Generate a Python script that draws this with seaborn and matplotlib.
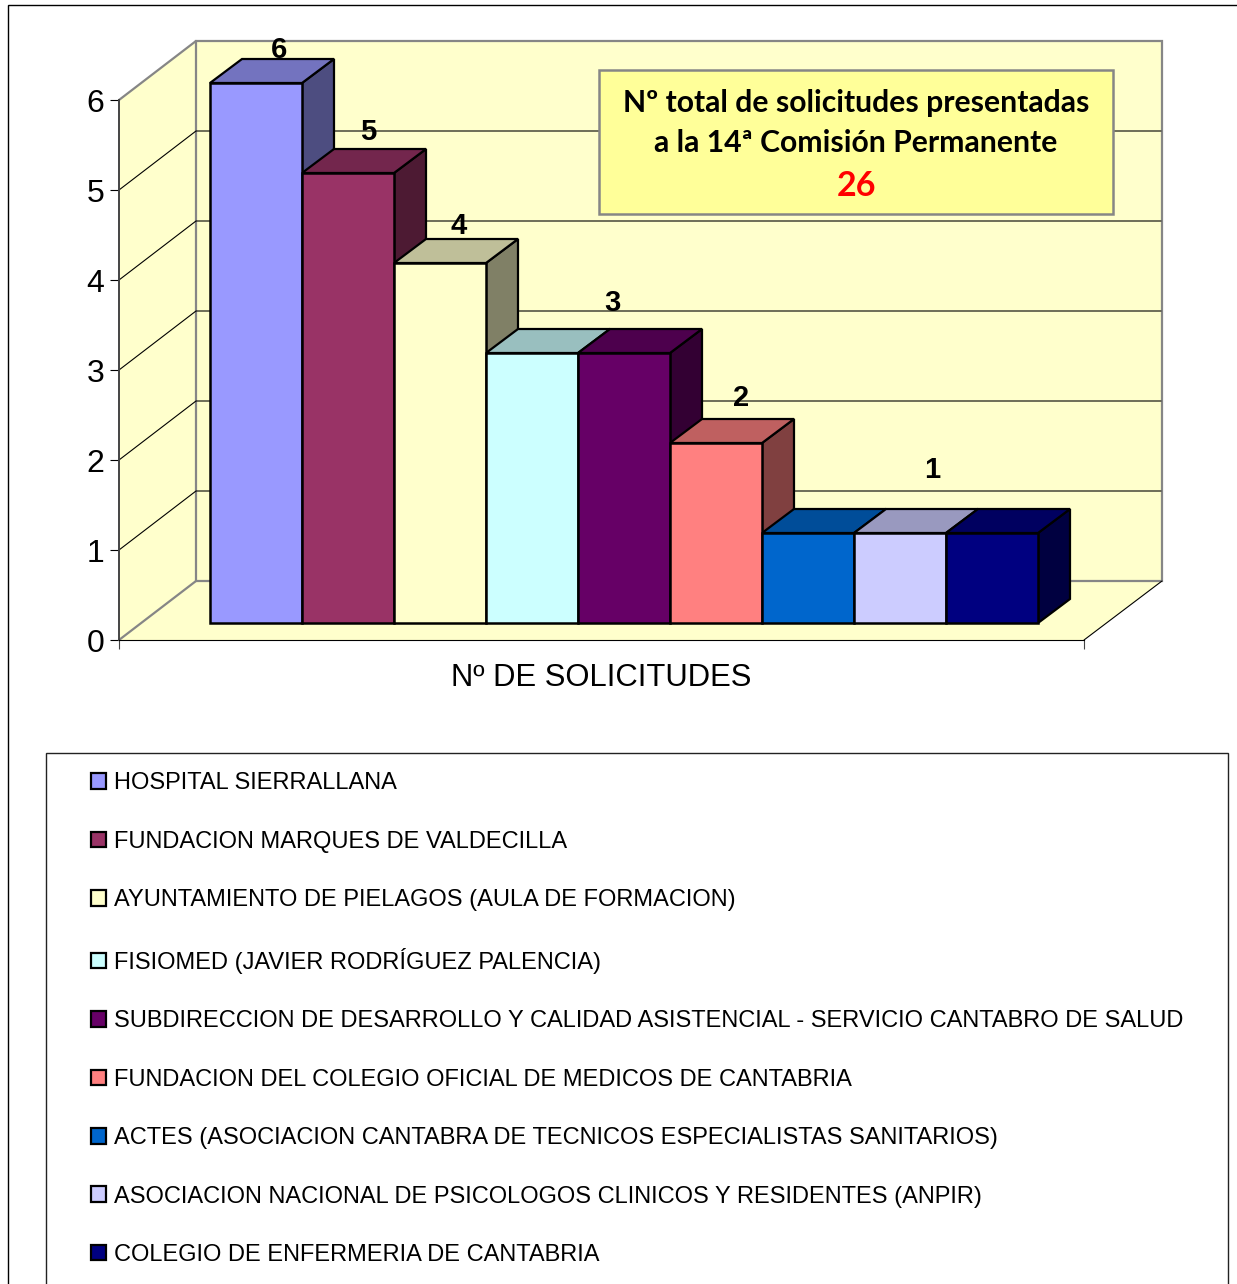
import matplotlib
matplotlib.use("Agg")
import matplotlib.pyplot as plt
import seaborn as sns
import pandas as pd
from matplotlib.patches import Polygon, Rectangle

# data
centros = [
    "HOSPITAL SIERRALLANA",
    "FUNDACION MARQUES DE VALDECILLA",
    "AYUNTAMIENTO DE PIELAGOS (AULA DE FORMACION)",
    "FISIOMED (JAVIER RODRÍGUEZ PALENCIA)",
    "SUBDIRECCION DE DESARROLLO Y CALIDAD ASISTENCIAL - SERVICIO CANTABRO DE SALUD",
    "FUNDACION DEL COLEGIO OFICIAL DE MEDICOS DE CANTABRIA",
    "ACTES (ASOCIACION CANTABRA DE TECNICOS ESPECIALISTAS SANITARIOS)",
    "ASOCIACION NACIONAL DE PSICOLOGOS CLINICOS Y RESIDENTES (ANPIR)",
    "COLEGIO DE ENFERMERIA DE CANTABRIA",
]
solicitudes = [6, 5, 4, 3, 3, 2, 1, 1, 1]
colores = ["#9999FF", "#993366", "#FFFFCC", "#CCFFFF", "#660066",
           "#FF8080", "#0066CC", "#CCCCFF", "#000080"]
y_ticks = [0, 1, 2, 3, 4, 5, 6]
total = 26

# labels sit by hand in the original: value, bar group centre, pixel offset from bar top
etiquetas = [6, 5, 4, 3, 2, 1]
etiqueta_x = [0, 1, 2, 3.5, 5, 7]
etiqueta_off = [(23, 33), (20, 41), (19, 37), (34, 50), (25, 45), (32, 63)]

W, H = 1237, 1284


def fx(px):
    return px / W


def fy(py):
    return 1 - py / H


def darken(color, factor):
    r, g, b = matplotlib.colors.to_rgb(color)
    return (r * factor, g * factor, b * factor)


sns.set_theme(style="white")
plt.rcParams["font.family"] = ["Liberation Sans", "DejaVu Sans"]

df = pd.DataFrame({"centro": centros, "solicitudes": solicitudes})

fig = plt.figure(figsize=(W / 100, H / 100), dpi=100, facecolor="white")

# outer frame and legend box run off the canvas
fig.add_artist(Rectangle((fx(8), fy(1400)), 1.2, fy(5.5) - fy(1400), transform=fig.transFigure,
                         fill=False, edgecolor="black", linewidth=1.0))
fig.add_artist(Rectangle((fx(46.5), fy(1400)), fx(1228) - fx(46.5), fy(753.5) - fy(1400),
                         transform=fig.transFigure, fill=False, edgecolor="#222222", linewidth=1.0))

# walls and axis
ax_frame = fig.add_axes([fx(119), fy(640), 965 / W, 540 / H], zorder=1)
ax_frame.set_xlim(0, 965)
ax_frame.set_ylim(0, 6)
ax_frame.patch.set_visible(False)
dx, dy = 77, 59 / 90
pared = "#FFFFCC"
borde = "#868686"
ax_frame.add_patch(Polygon([(0, 0), (dx, dy), (dx, 6 + dy), (0, 6)], closed=True, fc=pared, ec="none", clip_on=False))
ax_frame.add_patch(Polygon([(0, 0), (965, 0), (966 + dx, dy), (dx, dy)], closed=True, fc=pared, ec="none", clip_on=False))
ax_frame.add_patch(Rectangle((dx, dy), 966, 6, fc=pared, ec=borde, lw=1.6, clip_on=False))
for v in y_ticks[1:-1]:
    ax_frame.plot([0, dx, 965 + dx], [v, v + dy, v + dy], color="black", lw=0.8, clip_on=False)
ax_frame.plot([0, dx], [6, 6 + dy], color=borde, lw=1.6, clip_on=False)
ax_frame.plot([0, dx], [0, dy], color=borde, lw=1.6, clip_on=False)
ax_frame.plot([965, 966 + dx], [0, dy], color="black", lw=0.8, clip_on=False)

ax_frame.set_yticks(y_ticks)
ax_frame.set_xticks([0, 965])
ax_frame.set_xticklabels([])
ax_frame.tick_params(axis="y", left=True, length=6.5, width=0.8, labelsize=23, pad=4, color="black", labelcolor="black")
ax_frame.tick_params(axis="x", bottom=True, length=6.5, width=0.8, color="#444444")
ax_frame.set_xlabel("Nº DE SOLICITUDES", fontsize=22.3, labelpad=6.8, color="black")
for s in ["top", "right"]:
    ax_frame.spines[s].set_visible(False)
ax_frame.spines["left"].set_color("#444444")
ax_frame.spines["left"].set_linewidth(1.4)
ax_frame.spines["bottom"].set_color("black")
ax_frame.spines["bottom"].set_linewidth(0.8)

# note box
ax_frame.add_patch(Rectangle((fx(599), fy(214)), fx(1113) - fx(599), fy(70) - fy(214),
                             transform=fig.transFigure, fc="#FFFF99", ec=borde, lw=1.8, clip_on=False, zorder=5))
ax_frame.text(fx(856), fy(103), "Nº total de solicitudes presentadas", transform=fig.transFigure, ha="center",
              va="center", family="Lato", fontweight="bold", fontsize=21.7, color="black", zorder=6)
ax_frame.text(fx(856), fy(143), "a la 14ª Comisión Permanente", transform=fig.transFigure, ha="center",
              va="center", family="Lato", fontweight="bold", fontsize=21.7, color="black", zorder=6)
ax_frame.text(fx(856), fy(186), str(total), transform=fig.transFigure, ha="center",
              va="center", family="Lato", fontweight="bold", fontsize=24.5, color="#FF0000", zorder=6)

# bars
ax = fig.add_axes([fx(210), fy(623), 828 / W, 540 / H], zorder=2)
sns.barplot(data=df, x="centro", y="solicitudes", hue="centro", palette=colores, dodge=False,
            width=1, edgecolor="black", linewidth=1.8, zorder=30, ax=ax, legend=True, saturation=1)
ax.set_xlim(-0.5, 8.5)
ax.set_ylim(0, 6)
ax.axis("off")
for p in ax.patches:
    p.set_clip_on(False)

# 3d sides and tops, left to right so that later tops cover earlier sides
ddx, ddy = 32 / 92, 24 / 90
for i, (v, c) in enumerate(zip(solicitudes, colores)):
    l, r = i - 0.5, i + 0.5
    ax.add_patch(Polygon([(r, 0), (r + ddx, ddy), (r + ddx, v + ddy), (r, v)], closed=True,
                         fc=darken(c, 0.5), ec="black", lw=1.6, clip_on=False, zorder=2 + i))
    ax.add_patch(Polygon([(l, v), (l + ddx, v + ddy), (r + ddx, v + ddy), (r, v)], closed=True,
                         fc=darken(c, 0.75), ec="black", lw=1.6, clip_on=False, zorder=2 + i))

for v, x, off in zip(etiquetas, etiqueta_x, etiqueta_off):
    ax.annotate(str(v), xy=(x, v), xytext=(off[0] * 0.72, off[1] * 0.72), textcoords="offset points",
                ha="center", va="center", fontsize=21, fontweight="bold", color="black",
                annotation_clip=False, zorder=40)

# legend
handles, labels = ax.get_legend_handles_labels()
leg = ax.legend(handles, labels, loc="upper left", bbox_to_anchor=(fx(83), fy(764)), bbox_transform=fig.transFigure,
                frameon=False, fontsize=17.05, handlelength=0.63, handleheight=0.63, handletextpad=0.33,
                labelspacing=1.54, borderpad=0.35, borderaxespad=0, labelcolor="black")
for h in leg.legend_handles:
    h.set_linewidth(1.6)

fig.savefig("out.png", dpi=100)
